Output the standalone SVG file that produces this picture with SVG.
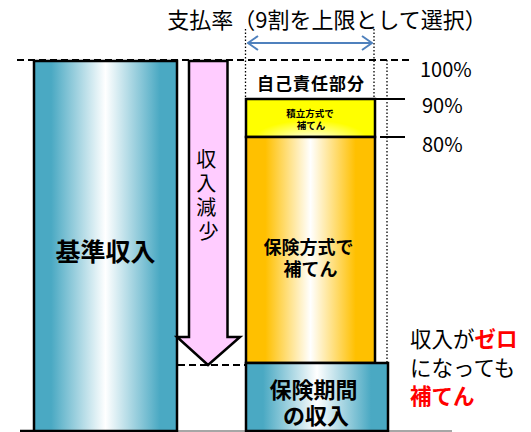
<svg xmlns="http://www.w3.org/2000/svg" width="531" height="432" viewBox="0 0 531 432">
<defs>
<linearGradient id="gBlue" x1="0" y1="0" x2="1" y2="0">
<stop offset="0" stop-color="#4aa9c3"/>
<stop offset="0.12" stop-color="#4aa9c3"/>
<stop offset="0.5" stop-color="#ffffff"/>
<stop offset="0.88" stop-color="#4aa9c3"/>
<stop offset="1" stop-color="#4aa9c3"/>
</linearGradient>
<linearGradient id="gOrange" x1="0" y1="0" x2="1" y2="0">
<stop offset="0" stop-color="#ffc000"/>
<stop offset="0.15" stop-color="#ffc000"/>
<stop offset="0.5" stop-color="#ffffff"/>
<stop offset="0.85" stop-color="#ffc000"/>
<stop offset="1" stop-color="#ffc000"/>
</linearGradient>
<radialGradient id="gYellow" cx="0.5" cy="1.1" r="0.45" gradientTransform="translate(0.5 1.1) scale(1 1.2) translate(-0.5 -1.1)">
<stop offset="0" stop-color="#ffffff"/>
<stop offset="1" stop-color="#ffff00"/>
</radialGradient>
<marker id="chev" viewBox="0 0 12 16" refX="11" refY="8" markerWidth="12" markerHeight="16" markerUnits="userSpaceOnUse" orient="auto-start-reverse">
<path d="M1,1 L11,8 L1,15" fill="none" stroke="#4f81bd" stroke-width="2"/>
</marker>
<style>
.box{stroke:#000;stroke-width:2.5}
.jp{font-family:"Noto Sans CJK JP","Noto Sans",sans-serif}
.b{font-weight:bold}
.dash{stroke:#000;stroke-width:2;stroke-dasharray:7 4;fill:none}
.dot{stroke:#000;stroke-width:1.3;stroke-dasharray:1.5 2;fill:none}
.tick{stroke:#000;stroke-width:2}
</style>
</defs>

<g id="guides">
<line class="dash" x1="17" y1="60" x2="411" y2="60"/>
<line class="dash" x1="178" y1="365" x2="245" y2="365"/>
<line class="dot" x1="245.5" y1="29" x2="245.5" y2="99"/>
<line class="dot" x1="374" y1="29" x2="374" y2="99"/>
<line class="dot" x1="387" y1="60" x2="387" y2="363"/>
<line class="tick" x1="375" y1="99" x2="405" y2="99"/>
<line class="tick" x1="380" y1="137" x2="405" y2="137"/>
<line x1="20" y1="431" x2="452" y2="431" stroke="#888" stroke-width="1.5"/>
<line x1="20" y1="431" x2="178" y2="431" stroke="#000" stroke-width="2.5"/>
</g>

<g id="connectors">
<line x1="248" y1="43" x2="372" y2="43" stroke="#4f81bd" stroke-width="2" marker-start="url(#chev)" marker-end="url(#chev)"/>
</g>

<g id="title">
<text class="jp" x="327" y="28" font-size="22" text-anchor="middle" fill="#000">支払率（9割を上限として選択）</text>
</g>

<g id="base-income">
<rect class="box" x="34" y="61" width="143" height="370" fill="url(#gBlue)"/>
<text class="jp b" x="105.5" y="261" font-size="25" text-anchor="middle">基準収入</text>
</g>

<g id="decrease-arrow">
<path class="box" d="M189,61 L227.5,61 L227.5,337 L240,337 L208,365 L177,337 L189,337 Z" fill="#ffccff" stroke-linejoin="miter"/>
<text class="jp" font-size="20" text-anchor="middle" x="208.5">
<tspan x="208.5" y="167">収</tspan>
<tspan x="208.5" y="191">入</tspan>
<tspan x="208.5" y="215">減</tspan>
<tspan x="208.5" y="239">少</tspan>
</text>
</g>

<g id="self-part">
<text class="jp b" x="311" y="90" font-size="17" letter-spacing="1" text-anchor="middle">自己責任部分</text>
</g>

<g id="reserve">
<rect class="box" x="246" y="99" width="129" height="38" fill="url(#gYellow)"/>
<text class="jp b" font-size="9.5" text-anchor="middle">
<tspan x="311" y="116.5">積立方式で</tspan>
<tspan x="311" y="129">補てん</tspan>
</text>
</g>

<g id="insurance">
<rect class="box" x="246" y="137" width="129" height="226" fill="url(#gOrange)"/>
<text class="jp b" font-size="18" text-anchor="middle">
<tspan x="310.5" y="254">保険方式で</tspan>
<tspan x="310.5" y="276">補てん</tspan>
</text>
</g>

<g id="period-income">
<rect class="box" x="246" y="363" width="142" height="68" fill="url(#gBlue)"/>
<text class="jp b" font-size="22" text-anchor="middle">
<tspan x="316" y="398">保険期間</tspan>
<tspan x="316" y="424">の収入</tspan>
</text>
</g>

<g id="percent-labels" class="jp" font-size="20" fill="#000">
<text x="420" y="77">100%</text>
<text x="422" y="113">90%</text>
<text x="422" y="152">80%</text>
</g>

<g id="note">
<text class="jp" font-size="21.5" fill="#000">
<tspan x="410" y="347">収入が</tspan><tspan class="b" fill="#ff0000">ゼロ</tspan>
<tspan x="410" y="376">になっても</tspan>
<tspan x="410" y="404" class="b" fill="#ff0000">補てん</tspan>
</text>
</g>
</svg>
